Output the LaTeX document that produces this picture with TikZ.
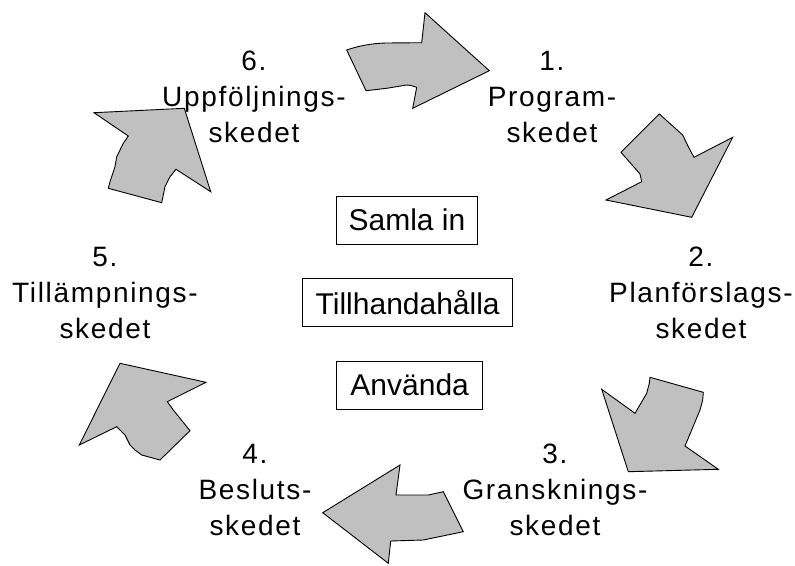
\documentclass[tikz,border=0pt]{standalone}
\usepackage{fontspec}
\setmainfont{Liberation Sans}
\newfontfamily\labfont[LetterSpace=6]{Liberation Sans}
\begin{document}
\begin{tikzpicture}[x=1pt,y=-1pt,
  cyclearrow/.style={draw=black,fill={rgb,255:red,192;green,192;blue,192},line width=0.9pt,line join=miter},
  phase/.style={align=center,inner sep=0pt,font={\labfont\fontsize{28}{36}\selectfont}},
  infobox/.style={draw=black,line width=1pt,inner sep=0pt,minimum height=48pt,font={\fontsize{30}{36}\selectfont}}]
\useasboundingbox (0,0) rectangle (795,565);
% arrows
\draw[cyclearrow] (346.7,50) .. controls (358,46) and (372,43.3) .. (386,43) -- (421.7,42.7) -- (425,12.7) -- (489.3,70.7) -- (412.7,108.3) -- (416.7,87.3) -- (411,85.5) -- (406.7,85) -- (386.7,88.3) -- (366,90.7) -- cycle;
\draw[cyclearrow] (659.3,114) -- (682.7,135) -- (688.3,146.7) -- (694,157.3) -- (732.7,137.3) -- (691.7,217.3) -- (606,200) -- (641.7,181.7) -- (640,174) -- (621,152.3) -- cycle;
\draw[cyclearrow] (650,377.3) -- (703.3,392.3) -- (702.7,400) -- (700,410) -- (685,446) -- (718.3,469.3) -- (628.3,471.7) -- (601.7,389.3) -- (635,413.3) -- (646.7,393.3) -- (649.3,383.3) -- cycle;
\draw[cyclearrow] (322.7,512.7) -- (400,465) -- (396,495) -- (428.3,495) -- (443.3,491.7) -- (463.3,531.7) -- (423.3,540) -- (390.7,541) -- (388.3,563.3) -- cycle;
\draw[cyclearrow] (160,460) -- (141.7,455) -- (135,450) -- (130,445) -- (125,435) -- (116.7,426.7) -- (79.3,445) -- (120,363.3) -- (206,382.3) -- (167.3,401.7) -- (173.3,410) -- (190,430.7) -- cycle;
\draw[cyclearrow] (94,112.7) -- (184.3,108.3) -- (210.7,191.7) -- (176,169.3) -- (170,176.7) -- (165,186.7) -- (161.7,202.7) -- (108.3,188.3) -- (110,181.7) -- (111.7,176.7) -- (115,166.7) -- (116.7,156.7) -- (123.3,143.3) -- (128.3,136) -- cycle;
% phase labels
\node[phase] (p1) at (552,97) {1.\\Program-\\skedet};
\node[phase] (p2) at (701,293) {2.\\Planförslags-\\skedet};
\node[phase] (p3) at (555,490) {3.\\Gransknings-\\skedet};
\node[phase] (p4) at (255,490) {4.\\Besluts-\\skedet};
\node[phase] (p5) at (105,293) {5.\\Tillämpnings-\\skedet};
\node[phase] (p6) at (254,97) {6.\\Uppföljnings-\\skedet};
% boxes
\node[infobox,minimum width=141pt] (b1) at (407,220) {Samla in};
\node[infobox,minimum width=210pt] (b2) at (407.7,302.5) {Tillhandahålla};
\node[infobox,minimum width=146pt] (b3) at (409.7,385) {Använda};
\end{tikzpicture}
\end{document}
